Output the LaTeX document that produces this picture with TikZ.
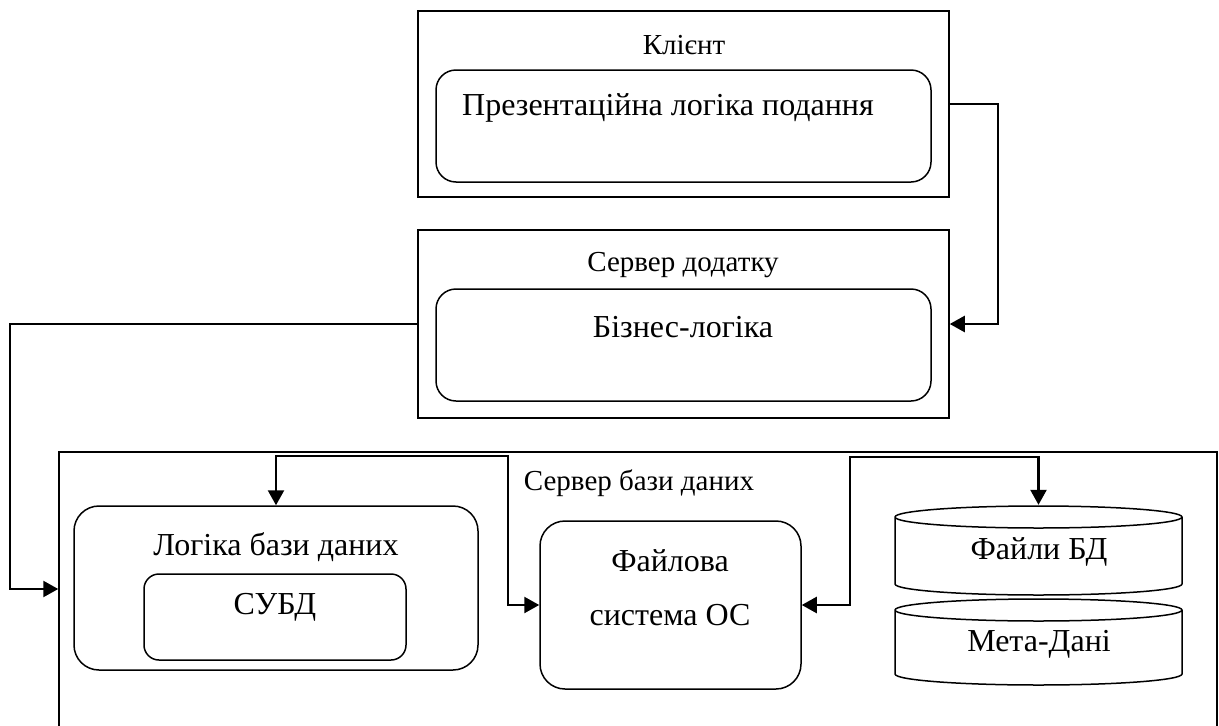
\documentclass[tikz,border=0pt]{standalone}
\usepackage{fontspec}
\setmainfont{Liberation Serif}
\usetikzlibrary{arrows.meta,calc}

\tikzset{
  frame/.style={draw, line width=1.5pt, inner sep=0pt, rectangle},
  rbox/.style={draw, line width=1.5pt, inner sep=0pt, rectangle, rounded corners=#1},
  rbox/.default=20pt,
  title/.style={inner sep=0pt, font=\fontsize{29}{33}\selectfont},
  label/.style={inner sep=0pt, font=\fontsize{32}{44}\selectfont, align=center},
  conn/.style={line width=2.4pt, -{Triangle[length=15pt,width=16pt]}},
  biconn/.style={line width=2.4pt, {Triangle[length=15pt,width=16pt]}-{Triangle[length=15pt,width=16pt]}},
  drum/.style={line width=1.5pt}
}

\begin{document}
\begin{tikzpicture}[x=1pt,y=-1pt]
\clip (0,0) rectangle (1219,726);
\fill[white] (0,0) rectangle (1219,726);

% client tier
\node[frame, minimum width=531pt, minimum height=186pt] (client) at (683.5,104) {};
\node[title] (clientT) at (684,45) {Клієнт};
\node[rbox, minimum width=495pt, minimum height=112pt] (presbox) at (683.5,126) {};
\node[label] (pres) at (668,108) {Презентаційна логіка подання};

% application server tier
\node[frame, minimum width=531pt, minimum height=188pt] (appsrv) at (683.5,324) {};
\node[title] (appT) at (683,265) {Сервер додатку};
\node[rbox, minimum width=495pt, minimum height=112pt] (bizbox) at (683.5,345) {};
\node[label] (biz) at (683,327) {Бізнес-логіка};

% database server tier (open at the bottom edge)
\node[frame, minimum width=1158pt, minimum height=318pt] (dbsrv) at (638,611) {};
\node[title] (dbT) at (639,483) {Сервер бази даних};

\node[rbox=25pt, minimum width=404pt, minimum height=164pt] (logic) at (276,588) {};
\node[label] (logicT) at (276,547) {Логіка бази даних};
\node[rbox=15pt, minimum width=262pt, minimum height=86pt] (dbms) at (275,617) {};
\node[label] (dbmsT) at (275,607) {СУБД};

\node[rbox=25pt, minimum width=261pt, minimum height=168pt] (fs) at (670.5,605) {};
\node[label] (fsT) at (670,588) {Файлова\\[10pt]система ОС};

% storage drums
\node[inner sep=0pt, minimum width=287pt, minimum height=90pt] (files) at (1038.5,550) {};
\draw[drum] (895,517) arc[start angle=180, end angle=-180, x radius=143.5, y radius=11]
  -- (895,584) arc[start angle=180, end angle=0, x radius=143.5, y radius=11]
  -- (1182,517);
\node[label] (filesT) at (1039,552) {Файли БД};

\node[inner sep=0pt, minimum width=287pt, minimum height=88pt] (meta) at (1038.5,642) {};
\draw[drum] (895,610) arc[start angle=180, end angle=-180, x radius=143.5, y radius=11]
  -- (895,674) arc[start angle=180, end angle=0, x radius=143.5, y radius=11]
  -- (1182,610);
\node[label] (metaT) at (1039,644) {Мета-Дані};

% connectors
\draw[conn] (client.east) -- ++(48,0) |- (appsrv.east);
\draw[conn] (appsrv.west) -- ++(-407,0) |- ([yshift=22pt]dbsrv.west);
\draw[biconn] (logic.north) -- ++(0,-49) -| ([xshift=-31pt]fs.west) -- (fs.west);
\draw[biconn] (fs.east) -- ++(48,0) |- ($(files.north)+(0,-48)$) -- (files.north);
\end{tikzpicture}
\end{document}
